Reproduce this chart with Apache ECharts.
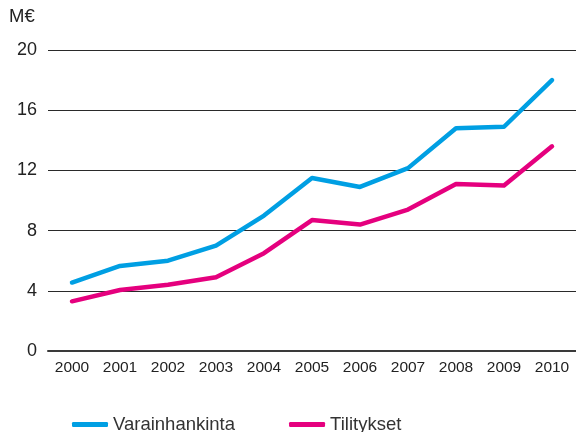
<!DOCTYPE html>
<html>
<head>
<meta charset="utf-8">
<script src="https://cdn.jsdelivr.net/npm/echarts@6/dist/echarts.min.js"></script>
<style>
html,body{margin:0;padding:0;background:#fff;}
#chart{width:576px;height:432px;}
</style>
</head>
<body>
<div id="chart"></div>
<script>
var years = ['2000','2001','2002','2003','2004','2005','2006','2007','2008','2009','2010'];
var varainhankinta = [4.55, 5.65, 6.0, 7.0, 9.0, 11.5, 10.9, 12.15, 14.8, 14.9, 18.0];
var tilitykset = [3.3, 4.05, 4.4, 4.9, 6.5, 8.7, 8.4, 9.4, 11.1, 11.0, 13.6];
var yTicks = [0, 4, 8, 12, 16, 20];
var seriesNames = ['Varainhankinta', 'Tilitykset'];
var unitLabel = 'M€';

var chart = echarts.init(document.getElementById('chart'), null, {renderer:'canvas'});
var font = '"Liberation Sans", Arial, sans-serif';
chart.setOption({
  animation: false,
  backgroundColor: '#ffffff',
  title: {
    text: unitLabel, left: 9, top: 7, padding: 0,
    textStyle: {fontFamily: font, fontSize: 18.5, fontWeight: 'normal', color: '#222'}
  },
  grid: {left: 48, right: 0, top: 50, bottom: 81, containLabel: false},
  legend: {
    left: 72, bottom: -2, padding: 0, itemGap: 54, itemWidth: 36, itemHeight: 5, icon: 'roundRect',
    textStyle: {fontFamily: font, fontSize: 18.5, color: '#333'},
    itemTextGap: 10
  },
  xAxis: {
    type: 'category', data: years, boundaryGap: true,
    axisLine: {show: true, lineStyle: {color: '#3a3a3a', width: 2}}, axisTick: {show: false},
    axisLabel: {fontFamily: font, fontSize: 15.5, color: '#222', margin: 9}
  },
  yAxis: {
    type: 'value', min: yTicks[0], max: yTicks[yTicks.length-1], interval: 4,
    axisLine: {show: false}, axisTick: {show: false},
    axisLabel: {fontFamily: font, fontSize: 18, color: '#222', margin: 11},
    splitLine: {lineStyle: {color: '#2a2a2a', width: 1.2}}
  },
  series: [
    {name: seriesNames[0], type: 'line', data: varainhankinta, symbol: 'none',
     lineStyle: {color: '#009fe3', width: 4.5, cap: 'round', join: 'round'}, itemStyle: {color: '#009fe3'}, z: 3},
    {name: seriesNames[1], type: 'line', data: tilitykset, symbol: 'none',
     lineStyle: {color: '#e5007e', width: 4.5, cap: 'round', join: 'round'}, itemStyle: {color: '#e5007e'}, z: 3}
  ]
});
</script>
</body>
</html>
